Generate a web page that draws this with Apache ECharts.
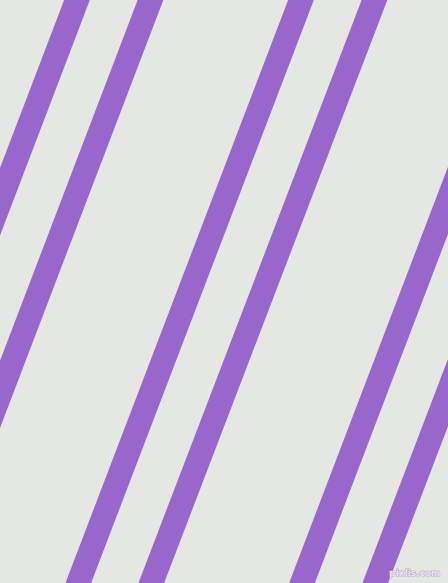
<!DOCTYPE html>
<html>
<head>
<meta charset="utf-8">
<script src="https://cdn.jsdelivr.net/npm/echarts@6/dist/echarts.min.js"></script>
<style>
  html, body { margin: 0; padding: 0; background: #e5e7e2; }
  #div_chart { width: 448px; height: 583px; }
</style>
</head>
<body>
<div id="div_chart"></div>
<script>
"use strict";

// stripe centre positions
// x where each stripe meets the top edge (y = 0) and the bottom edge (y = 583)
const stripe_top_x = [77, 150.5, 301, 374.5, 524.5, 598];
const stripe_bottom_x = [-145.5, -72, 78.3, 151.3, 302, 375.3];
const y_top = 0;
const y_bottom = 583;

const html_div_chart = document.getElementById("div_chart");
const chart = echarts.init(html_div_chart);

const series = [];
for (let i = 0; i < stripe_top_x.length; i++) {
  series.push({
    type: "line",
    data: [[stripe_top_x[i], y_top], [stripe_bottom_x[i], y_bottom]],
    symbol: "none",
    silent: true,
    animation: false,
    clip: true,
    lineStyle: { color: "#9966cc", width: 24, cap: "square" },
  });
}

chart.setOption({
  backgroundColor: "#e5e7e2",
  grid: { left: 0, right: 0, top: 0, bottom: 0 },
  xAxis: { type: "value", min: 0, max: 448, show: false },
  yAxis: { type: "value", min: 0, max: 583, inverse: true, show: false },
  series: series,
  graphic: [
    {
      type: "text",
      right: 7,
      bottom: 4,
      z: 100,
      style: {
        text: "pixlis.com",
        font: "bold 9px 'DejaVu Sans'",
        fill: "#ece5f4",
        stroke: "#b9a2d8",
        lineWidth: 1,
      },
    },
  ],
});
</script>
</body>
</html>
